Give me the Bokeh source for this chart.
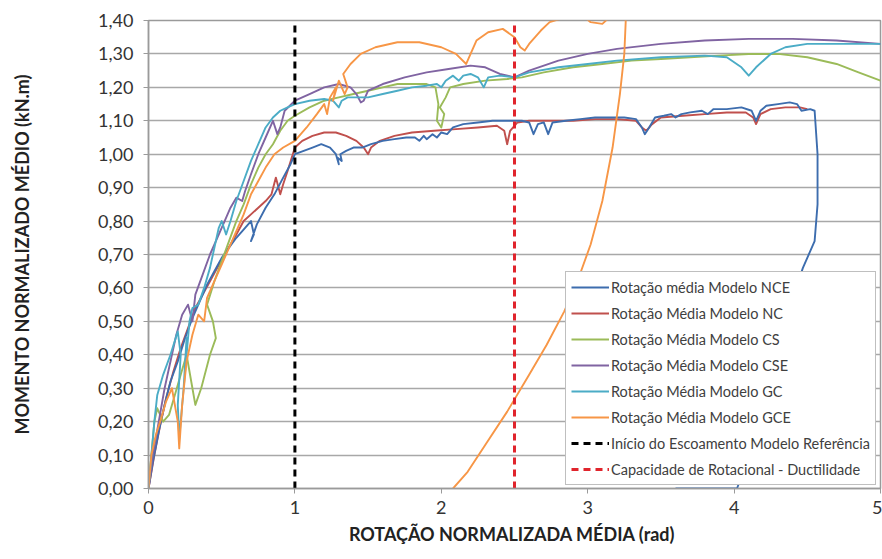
from bokeh.plotting import figure
from bokeh.models import Range1d, FixedTicker, Legend, LegendItem
from bokeh.embed import file_html
from bokeh.resources import INLINE

# Rotação normalizada média (rad) x momento normalizado médio (kN.m), per model
nce = [(0, 0), (0.03, 0.08), (0.07, 0.17), (0.11, 0.25), (0.15, 0.32), (0.2, 0.38), (0.25, 0.45),
       (0.3, 0.51), (0.35, 0.56), (0.4, 0.61), (0.45, 0.65), (0.5, 0.69), (0.55, 0.72), (0.6, 0.75),
       (0.66, 0.78), (0.7, 0.8), (0.72, 0.76), (0.7, 0.74), (0.74, 0.79), (0.8, 0.84), (0.86, 0.88),
       (0.92, 0.93), (0.97, 0.97), (1.0, 1.0), (1.06, 1.01), (1.12, 1.02), (1.18, 1.03), (1.24, 1.02),
       (1.28, 1.0), (1.3, 0.97), (1.29, 0.99), (1.32, 0.98), (1.31, 1.0), (1.35, 1.01), (1.4, 1.02),
       (1.46, 1.02), (1.52, 1.03), (1.6, 1.04), (1.68, 1.045), (1.76, 1.05), (1.82, 1.05), (1.85, 1.04),
       (1.88, 1.055), (1.9, 1.045), (1.94, 1.06), (1.97, 1.05), (2.0, 1.065), (2.04, 1.06), (2.08, 1.08),
       (2.15, 1.09), (2.25, 1.095), (2.35, 1.1), (2.45, 1.1), (2.55, 1.1), (2.6, 1.095), (2.63, 1.06),
       (2.66, 1.09), (2.7, 1.095), (2.73, 1.06), (2.76, 1.095), (2.85, 1.1), (2.95, 1.105), (3.05, 1.11),
       (3.15, 1.11), (3.25, 1.11), (3.33, 1.105), (3.37, 1.08), (3.39, 1.06), (3.42, 1.08), (3.46, 1.11),
       (3.52, 1.115), (3.57, 1.12), (3.6, 1.11), (3.64, 1.12), (3.7, 1.125), (3.78, 1.13), (3.82, 1.12),
       (3.86, 1.135), (3.95, 1.135), (4.05, 1.14), (4.12, 1.13), (4.15, 1.10), (4.18, 1.13), (4.22, 1.145),
       (4.3, 1.15), (4.38, 1.155), (4.43, 1.15), (4.46, 1.13), (4.52, 1.135), (4.55, 1.13), (4.57, 1.0),
       (4.57, 0.85), (4.55, 0.74), (4.47, 0.66), (4.36, 0.52), (4.24, 0.32), (4.12, 0.12), (4.02, 0.0),
       (3.6, 0.0)]

nc = [(0, 0), (0.04, 0.1), (0.08, 0.19), (0.12, 0.27), (0.17, 0.35), (0.22, 0.42), (0.27, 0.48),
      (0.32, 0.54), (0.37, 0.58), (0.42, 0.62), (0.47, 0.66), (0.52, 0.7), (0.56, 0.73), (0.6, 0.76),
      (0.65, 0.8), (0.7, 0.82), (0.75, 0.84), (0.8, 0.86), (0.84, 0.88), (0.87, 0.93), (0.9, 0.88),
      (0.92, 0.91), (0.95, 0.95), (1.0, 1.02), (1.05, 1.04), (1.12, 1.055), (1.2, 1.065), (1.28, 1.065),
      (1.35, 1.055), (1.42, 1.04), (1.47, 1.02), (1.5, 1.0), (1.52, 1.02), (1.58, 1.04), (1.68, 1.055),
      (1.8, 1.065), (1.95, 1.07), (2.1, 1.075), (2.25, 1.08), (2.38, 1.085), (2.43, 1.07), (2.45, 1.03),
      (2.47, 1.07), (2.52, 1.095), (2.6, 1.1), (2.75, 1.1), (2.9, 1.1), (3.05, 1.105), (3.2, 1.105),
      (3.33, 1.1), (3.37, 1.08), (3.4, 1.07), (3.44, 1.09), (3.5, 1.11), (3.65, 1.115), (3.8, 1.12),
      (3.95, 1.125), (4.08, 1.125), (4.13, 1.11), (4.15, 1.09), (4.18, 1.12), (4.25, 1.135), (4.35, 1.14),
      (4.45, 1.14), (4.5, 1.135)]

cs = [(0, 0), (0.02, 0.1), (0.04, 0.2), (0.06, 0.24), (0.1, 0.2), (0.14, 0.22), (0.18, 0.28), (0.22, 0.34),
      (0.26, 0.4), (0.3, 0.3), (0.32, 0.25), (0.36, 0.3), (0.42, 0.4), (0.46, 0.45), (0.44, 0.5), (0.4, 0.55),
      (0.45, 0.62), (0.5, 0.68), (0.55, 0.74), (0.6, 0.8), (0.65, 0.85), (0.7, 0.91), (0.75, 0.96),
      (0.8, 1.0), (0.85, 1.03), (0.9, 1.07), (0.95, 1.1), (1.0, 1.115), (1.1, 1.14), (1.2, 1.16),
      (1.3, 1.17), (1.4, 1.18), (1.5, 1.19), (1.6, 1.2), (1.7, 1.21), (1.8, 1.21), (1.9, 1.21),
      (1.96, 1.2), (1.98, 1.15), (1.97, 1.1), (2.0, 1.08), (2.02, 1.12), (1.99, 1.14), (2.03, 1.17),
      (2.06, 1.2), (2.15, 1.21), (2.3, 1.22), (2.45, 1.225), (2.55, 1.23), (2.7, 1.245), (2.9, 1.26),
      (3.1, 1.27), (3.3, 1.28), (3.5, 1.285), (3.7, 1.29), (3.9, 1.295), (4.1, 1.3), (4.3, 1.3),
      (4.5, 1.29), (4.7, 1.27), (4.85, 1.245), (5.0, 1.22)]

cse = [(0, 0), (0.03, 0.1), (0.07, 0.2), (0.11, 0.3), (0.15, 0.38), (0.19, 0.46), (0.23, 0.52),
       (0.27, 0.55), (0.3, 0.5), (0.32, 0.58), (0.37, 0.64), (0.42, 0.7), (0.47, 0.75), (0.52, 0.8),
       (0.56, 0.84), (0.6, 0.87), (0.64, 0.86), (0.66, 0.89), (0.7, 0.94), (0.75, 1.0), (0.8, 1.05),
       (0.85, 1.1), (0.88, 1.06), (0.9, 1.08), (0.93, 1.13), (1.0, 1.16), (1.1, 1.18), (1.2, 1.2),
       (1.3, 1.21), (1.38, 1.2), (1.42, 1.18), (1.45, 1.155), (1.47, 1.16), (1.5, 1.19), (1.6, 1.21),
       (1.75, 1.23), (1.9, 1.245), (2.05, 1.255), (2.2, 1.265), (2.3, 1.26), (2.4, 1.24), (2.5, 1.23),
       (2.6, 1.25), (2.8, 1.28), (3.0, 1.3), (3.2, 1.315), (3.5, 1.33), (3.8, 1.34), (4.1, 1.345),
       (4.4, 1.345), (4.7, 1.34), (5.0, 1.33)]

gc = [(0, 0), (0.02, 0.1), (0.04, 0.2), (0.06, 0.28), (0.1, 0.34), (0.15, 0.4), (0.2, 0.47), (0.22, 0.4),
      (0.2, 0.25), (0.21, 0.15), (0.24, 0.3), (0.26, 0.45), (0.24, 0.3), (0.28, 0.5), (0.3, 0.54),
      (0.34, 0.55), (0.38, 0.6), (0.42, 0.66), (0.45, 0.72), (0.48, 0.78), (0.5, 0.8), (0.53, 0.76),
      (0.56, 0.8), (0.6, 0.86), (0.65, 0.92), (0.7, 0.98), (0.75, 1.03), (0.8, 1.08), (0.85, 1.11),
      (0.9, 1.13), (0.95, 1.14), (1.0, 1.15), (1.1, 1.16), (1.2, 1.165), (1.26, 1.16), (1.3, 1.14),
      (1.32, 1.16), (1.36, 1.17), (1.5, 1.17), (1.6, 1.18), (1.7, 1.19), (1.8, 1.2), (1.9, 1.205),
      (1.97, 1.21), (2.0, 1.2), (2.03, 1.22), (2.08, 1.235), (2.12, 1.22), (2.15, 1.235), (2.2, 1.24),
      (2.25, 1.23), (2.29, 1.2), (2.32, 1.23), (2.4, 1.235), (2.5, 1.23), (2.6, 1.245), (2.8, 1.26),
      (3.0, 1.27), (3.2, 1.28), (3.5, 1.29), (3.8, 1.295), (3.95, 1.29), (4.05, 1.26), (4.1, 1.235),
      (4.15, 1.26), (4.25, 1.3), (4.35, 1.32), (4.5, 1.33), (4.7, 1.33), (5.0, 1.33)]

gce = [(0, 0), (0.02, 0.1), (0.05, 0.16), (0.08, 0.2), (0.12, 0.26), (0.16, 0.3), (0.2, 0.2),
       (0.21, 0.12), (0.23, 0.25), (0.26, 0.38), (0.3, 0.46), (0.34, 0.52), (0.38, 0.5), (0.4, 0.57),
       (0.45, 0.62), (0.5, 0.67), (0.55, 0.72), (0.6, 0.77), (0.65, 0.82), (0.7, 0.88), (0.75, 0.92),
       (0.8, 0.96), (0.86, 1.0), (0.92, 1.02), (1.0, 1.04), (1.08, 1.08), (1.15, 1.12), (1.2, 1.15),
       (1.22, 1.12), (1.24, 1.17), (1.28, 1.2), (1.26, 1.16), (1.3, 1.22), (1.34, 1.18), (1.36, 1.2),
       (1.33, 1.24), (1.38, 1.27), (1.45, 1.3), (1.55, 1.32), (1.7, 1.335), (1.85, 1.335), (2.0, 1.32),
       (2.1, 1.3), (2.17, 1.27), (2.2, 1.3), (2.24, 1.34), (2.32, 1.365), (2.42, 1.375), (2.5, 1.35),
       (2.54, 1.32), (2.57, 1.31), (2.6, 1.33), (2.68, 1.37), (2.74, 1.395), (2.85, 1.41), (2.95, 1.42),
       (3.02, 1.395), (3.1, 1.39), (3.15, 1.41), (3.22, 1.42), (3.26, 1.4), (3.25, 1.3), (3.22, 1.18),
       (3.17, 1.02), (3.1, 0.86), (3.02, 0.73), (2.93, 0.62), (2.84, 0.53), (2.72, 0.43), (2.6, 0.34),
       (2.45, 0.23), (2.3, 0.13), (2.18, 0.05), (2.08, 0.0)]

series_names = ["Rotação média Modelo NCE", "Rotação Média Modelo NC", "Rotação Média Modelo CS",
                "Rotação Média Modelo CSE", "Rotação Média Modelo GC", "Rotação Média Modelo GCE"]
series_data = [nce, nc, cs, cse, gc, gce]
series_colors = ["#3D6DAE", "#C0504D", "#9BBB59", "#8064A2", "#4BACC6", "#F79646"]

# reference rotations (rad)
yield_rotation = 1.0
ductility_rotation = 2.5
marker_names = ["Início do Escoamento Modelo Referência", "Capacidade de Rotacional - Ductilidade"]

x_ticks = [0, 1, 2, 3, 4, 5]
x_tick_labels = ["0", "1", "2", "3", "4", "5"]
y_ticks = [0.0, 0.1, 0.2, 0.3, 0.4, 0.5, 0.6, 0.7, 0.8, 0.9, 1.0, 1.1, 1.2, 1.3, 1.4]
y_tick_labels = ["0,00", "0,10", "0,20", "0,30", "0,40", "0,50", "0,60", "0,70", "0,80", "0,90",
                 "1,00", "1,10", "1,20", "1,30", "1,40"]

FONT = "Lato"

p = figure(width=882, height=559, x_range=Range1d(0, 5), y_range=Range1d(0, 1.4),
           output_backend="svg", toolbar_location=None,
           min_border_left=148, min_border_right=2, min_border_top=20, min_border_bottom=71)
p.background_fill_color = "white"
p.border_fill_color = "white"
p.outline_line_color = "#9A9A9A"
p.outline_line_width = 1.5

# axes
for ax in (p.xaxis[0], p.yaxis[0]):
    ax.axis_line_color = "#9A9A9A"
    ax.axis_line_width = 1.5
    ax.major_tick_line_color = "#9A9A9A"
    ax.major_tick_in = 0
    ax.major_tick_out = 5
    ax.minor_tick_line_color = None
    ax.major_label_text_font = FONT
    ax.major_label_text_font_size = "18px"
    ax.major_label_text_color = "#333333"
    ax.axis_label_text_font = FONT
    ax.axis_label_text_font_style = "bold"
    ax.axis_label_text_font_size = "18px"
    ax.axis_label_text_color = "#222222"

p.xaxis.ticker = FixedTicker(ticks=x_ticks)
p.xaxis.major_label_overrides = dict(zip(x_ticks, x_tick_labels))
p.xaxis.axis_label = "ROTAÇÃO NORMALIZADA MÉDIA  (rad)"
p.xaxis.major_label_standoff = 7
p.xaxis.axis_label_standoff = 6

p.yaxis.ticker = FixedTicker(ticks=y_ticks)
p.yaxis.major_label_overrides = dict(zip(y_ticks, y_tick_labels))
p.yaxis.axis_label = "MOMENTO NORMALIZADO MÉDIO (kN.m)"
p.yaxis.major_label_standoff = 10
p.yaxis.axis_label_standoff = 62

p.xgrid.visible = False
p.ygrid.ticker = FixedTicker(ticks=y_ticks)
p.ygrid.grid_line_color = "#A8A8A8"
p.ygrid.grid_line_width = 1.5

# curves (NC beneath NCE so the blue stays on top where they overlap)
draw_order = [1, 0, 2, 3, 4, 5]
renderers = {}
for i in draw_order:
    pts = series_data[i]
    xs = [a for a, _ in pts]
    ys = [b for _, b in pts]
    renderers[i] = p.line(xs, ys, line_color=series_colors[i], line_width=1.9,
                          line_join="round")

r_yield = p.line([yield_rotation, yield_rotation], [0, 1.4], line_color="black",
                 line_width=3, line_dash="7 5")
r_duct = p.line([ductility_rotation, ductility_rotation], [0, 1.4], line_color="#E0242C",
                line_width=3, line_dash="7 5")

items = [LegendItem(label=series_names[i], renderers=[renderers[i]]) for i in range(6)]
items.append(LegendItem(label=marker_names[0], renderers=[r_yield]))
items.append(LegendItem(label=marker_names[1], renderers=[r_duct]))

legend = Legend(items=items, location=(417, 3))
legend.label_text_font = FONT
legend.label_text_font_size = "14.5px"
legend.label_text_color = "#404040"
legend.border_line_color = "#7F7F7F"
legend.border_line_width = 1.2
legend.background_fill_color = "white"
legend.background_fill_alpha = 1.0
legend.glyph_width = 38
legend.glyph_height = 20
legend.label_height = 20
legend.spacing = 6
legend.padding = 5
legend.margin = 0
legend.label_standoff = 2
p.add_layout(legend)

open("out.html", "w").write(file_html(p, INLINE))
